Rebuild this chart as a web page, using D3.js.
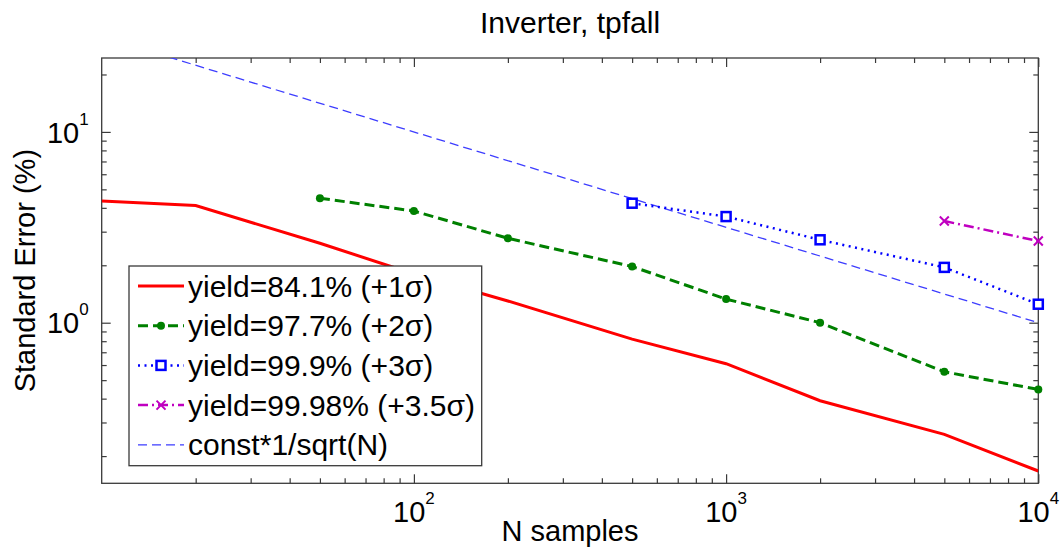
<!DOCTYPE html>
<html>
<head>
<meta charset="utf-8">
<script src="https://cdn.jsdelivr.net/npm/d3@7"></script>
<style>
  body { margin: 0; background: #fff; }
  svg { display: block; font-family: "Liberation Sans", Arial, sans-serif; }
</style>
</head>
<body>
<svg id="chart"></svg>
<script>
// values
const nRed = [10, 20, 50, 100, 200, 500, 1000, 2000, 5000, 10000];
const errRed = [4.35, 4.11, 2.61, 1.8, 1.3, 0.82, 0.61, 0.39, 0.26, 0.167];

const nGreen = [50, 100, 200, 500, 1000, 2000, 5000, 10000];
const errGreen = [4.49, 3.85, 2.77, 1.97, 1.33, 1.0, 0.553, 0.447];

const nBlue = [500, 1000, 2000, 5000, 10000];
const errBlue = [4.23, 3.6, 2.72, 1.95, 1.25];

const nMagenta = [5000, 10000];
const errMagenta = [3.41, 2.68];

const nRef = [10, 10000];
const errRef = [31.6, 1.0];

const legendLabels = [
  "yield=84.1% (+1σ)",
  "yield=97.7% (+2σ)",
  "yield=99.9% (+3σ)",
  "yield=99.98% (+3.5σ)",
  "const*1/sqrt(N)",
];

const xDomain = [10, 10000];
const yDomain = [0.144, 24.4];
const xMajor = [100, 1000, 10000];
const xExp = ["2", "3", "4"];
const yMajor = [1, 10];
const yExp = ["0", "1"];

const TITLE = "Inverter, tpfall";
const XLABEL = "N samples";
const YLABEL = "Standard Error (%)";

const width = 1061;
const height = 558;
const margin = { top: 58, right: 22.7, bottom: 74.7, left: 101.7 };
const innerWidth = width - margin.left - margin.right;
const innerHeight = height - margin.top - margin.bottom;
const axisColor = "#3a3a3a";

const svg = d3.select("#chart").attr("width", width).attr("height", height);

const chart = svg
  .append("g")
  .attr("transform", `translate(${margin.left}, ${margin.top})`);

const xscale = d3.scaleLog().domain(xDomain).range([0, innerWidth]);
const yscale = d3.scaleLog().domain(yDomain).range([innerHeight, 0]);

const xMinor = xscale.ticks().filter((d) => !xMajor.includes(d) && d > xDomain[0]);
const yMinor = yscale.ticks().filter((d) => !yMajor.includes(d));

// ticks on all four sides, pointing inward
function drawTicks(axis, values, size, transform) {
  const grp = chart
    .append("g")
    .attr("transform", transform)
    .attr("color", axisColor)
    .call(axis.tickValues(values).tickSize(-size).tickSizeOuter(0).tickFormat(""));
  grp.select(".domain").remove();
  grp.selectAll("line").attr("stroke-width", 1.2);
}

drawTicks(d3.axisBottom(xscale), xMinor, 5, `translate(0, ${innerHeight})`);
drawTicks(d3.axisBottom(xscale), xMajor, 9, `translate(0, ${innerHeight})`);
drawTicks(d3.axisTop(xscale), xMinor, 5, "translate(0, 0)");
drawTicks(d3.axisTop(xscale), xMajor, 9, "translate(0, 0)");
drawTicks(d3.axisLeft(yscale), yMinor, 5, "translate(0, 0)");
drawTicks(d3.axisLeft(yscale), yMajor, 9, "translate(0, 0)");
drawTicks(d3.axisRight(yscale), yMinor, 5, `translate(${innerWidth}, 0)`);
drawTicks(d3.axisRight(yscale), yMajor, 9, `translate(${innerWidth}, 0)`);

chart
  .append("rect")
  .attr("width", innerWidth)
  .attr("height", innerHeight)
  .attr("fill", "none")
  .attr("stroke", axisColor)
  .attr("stroke-width", 1.3);

// tick labels as 10^k: base and exponent as two texts
const baseSize = 29;
const expSize = 17;

xMajor.forEach((d, i) => {
  const x = xscale(d);
  chart
    .append("text")
    .attr("x", x + 11.4)
    .attr("y", innerHeight + 38.4)
    .attr("text-anchor", "end")
    .attr("font-size", baseSize)
    .text("10");
  chart
    .append("text")
    .attr("x", x + 11.4)
    .attr("y", innerHeight + 20.4)
    .attr("font-size", expSize)
    .text(xExp[i]);
});

yMajor.forEach((d, i) => {
  const y = yscale(d);
  chart
    .append("text")
    .attr("x", -22.5)
    .attr("y", y + 10.6)
    .attr("text-anchor", "end")
    .attr("font-size", baseSize)
    .text("10");
  chart
    .append("text")
    .attr("x", -22.5)
    .attr("y", y - 7.4)
    .attr("font-size", expSize)
    .text(yExp[i]);
});

svg
  .append("text")
  .attr("x", margin.left + innerWidth / 2)
  .attr("y", 33.3)
  .attr("text-anchor", "middle")
  .attr("font-size", 30)
  .text(TITLE);

svg
  .append("text")
  .attr("x", margin.left + innerWidth / 2)
  .attr("y", 541)
  .attr("text-anchor", "middle")
  .attr("font-size", 29)
  .text(XLABEL);

svg
  .append("text")
  .attr("transform", `translate(35, ${margin.top + innerHeight / 2}) rotate(-90)`)
  .attr("text-anchor", "middle")
  .attr("font-size", 29)
  .text(YLABEL);

// series
const series = [
  { n: nRed, err: errRed, color: "#ff0000", width: 3, dash: null, marker: null },
  { n: nGreen, err: errGreen, color: "#008000", width: 3, dash: "10,5", marker: "dot" },
  { n: nBlue, err: errBlue, color: "#0000ff", width: 2.5, dash: "2,4.5", marker: "square" },
  { n: nMagenta, err: errMagenta, color: "#c000c0", width: 2.5, dash: "10,4,2,4", marker: "cross" },
  { n: nRef, err: errRef, color: "#3d3dff", width: 1.3, dash: "9,5", marker: null },
];

chart
  .append("clipPath")
  .attr("id", "plotclip")
  .append("rect")
  .attr("width", innerWidth)
  .attr("height", innerHeight);

const plot = chart.append("g").attr("clip-path", "url(#plotclip)");

const line = d3
  .line()
  .x((d) => xscale(d[0]))
  .y((d) => yscale(d[1]));

function drawMarker(grp, type, x, y, color) {
  if (type === "dot") {
    grp.append("circle").attr("cx", x).attr("cy", y).attr("r", 4).attr("fill", color);
  } else if (type === "square") {
    const s = 9;
    grp
      .append("rect")
      .attr("x", x - s / 2)
      .attr("y", y - s / 2)
      .attr("width", s)
      .attr("height", s)
      .attr("fill", "#fff")
      .attr("stroke", color)
      .attr("stroke-width", 2.5);
  } else if (type === "cross") {
    const s = 4.5;
    grp
      .append("path")
      .attr("d", `M${x - s},${y - s}L${x + s},${y + s}M${x - s},${y + s}L${x + s},${y - s}`)
      .attr("stroke", color)
      .attr("stroke-width", 2);
  }
}

// reference line first so it sits underneath
[4, 0, 1, 2, 3].forEach((i) => {
  const s = series[i];
  const pts = d3.zip(s.n, s.err);
  plot
    .append("path")
    .attr("d", line(pts))
    .attr("fill", "none")
    .attr("stroke", s.color)
    .attr("stroke-width", s.width)
    .attr("stroke-dasharray", s.dash);
  if (s.marker) {
    const mg = chart.append("g");
    pts.forEach((p) => drawMarker(mg, s.marker, xscale(p[0]), yscale(p[1]), s.color));
  }
});

// legend
const legend = svg.append("g");
legend
  .append("rect")
  .attr("x", 129)
  .attr("y", 266)
  .attr("width", 352.7)
  .attr("height", 199.7)
  .attr("fill", "#fff")
  .attr("stroke", axisColor)
  .attr("stroke-width", 1.3);

legendLabels.forEach((label, i) => {
  const s = series[i];
  const rowY = 286 + i * 39.7;
  legend
    .append("line")
    .attr("x1", 138)
    .attr("x2", 184)
    .attr("y1", rowY)
    .attr("y2", rowY)
    .attr("stroke", s.color)
    .attr("stroke-width", s.width)
    .attr("stroke-dasharray", s.dash);
  if (s.marker) drawMarker(legend, s.marker, 161, rowY, s.color);
  legend
    .append("text")
    .attr("x", 188)
    .attr("y", rowY + 10.5)
    .attr("font-size", 30)
    .text(label);
});
</script>
</body>
</html>
